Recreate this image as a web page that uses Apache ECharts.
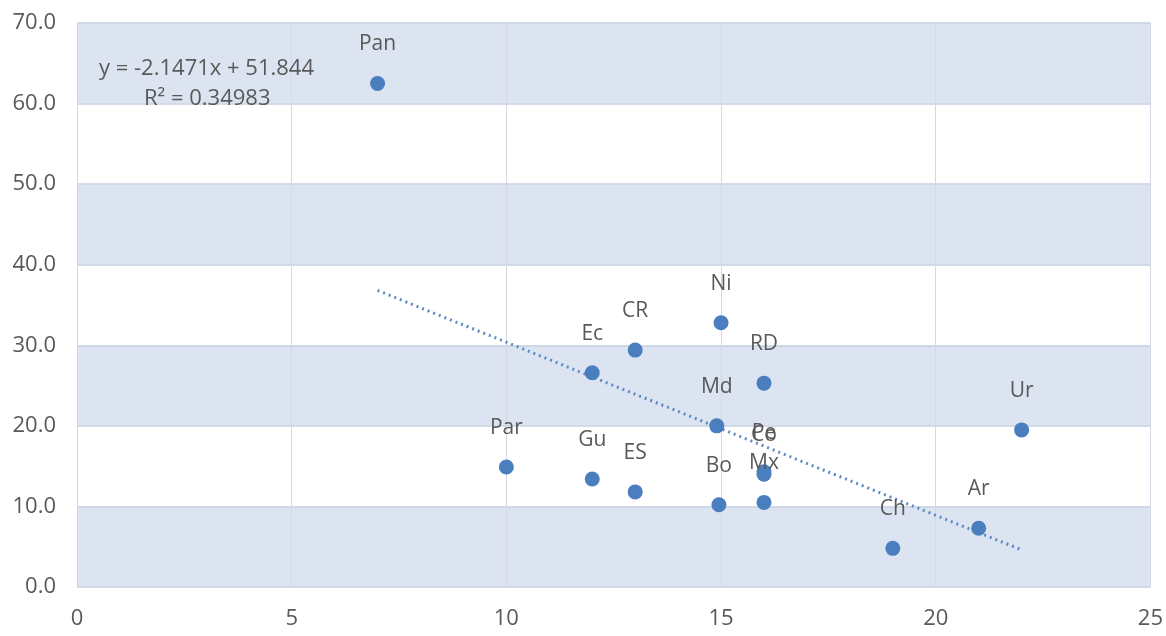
<!DOCTYPE html>
<html><head><meta charset="utf-8">
<script src="https://cdn.jsdelivr.net/npm/echarts@6/dist/echarts.min.js"></script>
<style>html,body{margin:0;padding:0;background:#fff}#c{width:1166px;height:636px}</style>
</head><body><div id="c"></div>
<script>
const countries = ['Pan','Par','Gu','Ec','CR','ES','Ni','Md','Bo','RD','Pe','Co','Mx','Ch','Ar','Ur'];
const xValues   = [7, 10, 12, 12, 13, 13, 15, 14.9, 14.95, 16, 16, 16, 16, 19, 21, 22];
const yValues   = [62.5, 14.9, 13.4, 26.6, 29.4, 11.8, 32.8, 20.0, 10.2, 25.3, 14.3, 14.0, 10.5, 4.8, 7.3, 19.5];
const trendSlope = -2.1471;
const trendIntercept = 51.844;
const trendX = [7, 22];
const equationText = 'y = -2.1471x + 51.844';
const r2Text = 'R² = 0.34983';

const pts = countries.map((n,i)=>({name:n, value:[xValues[i], yValues[i]]}));
const trend = trendX.map(x=>[x, trendSlope*x + trendIntercept]);
const font = "'Open Sans', 'Liberation Sans', sans-serif";
const chart = echarts.init(document.getElementById('c'), null, {renderer:'canvas'});
chart.setOption({
  animation:false,
  backgroundColor:'#fff',
  grid:{left:77, right:14, top:23, bottom:49, containLabel:false},
  xAxis:{type:'value', min:0, max:25, interval:5,
    axisLine:{show:false}, axisTick:{show:false},
    axisLabel:{color:'#595959', fontSize:22, fontFamily:font, margin:21},
    splitLine:{show:true, lineStyle:{color:'#d3dae5', width:1}}},
  yAxis:{type:'value', min:0, max:70, interval:10,
    axisLine:{show:false}, axisTick:{show:false},
    axisLabel:{color:'#595959', fontSize:22, fontFamily:font, margin:21, formatter:v=>v.toFixed(1)},
    splitLine:{show:true, lineStyle:{color:'#c8d2e2', width:1.5}},
    splitArea:{show:true, areaStyle:{color:['#dce4f1','#ffffff']}}},
  series:[
    {type:'line', data:trend, symbol:'none', silent:true,
      lineStyle:{color:'#5d8ac4', width:3, type:[2,4]}, z:2},
    {type:'scatter', data:pts, symbolSize:15, z:3,
      itemStyle:{color:'#4a7ebf', opacity:1},
      label:{show:true, position:'top', distance:21, formatter:p=>p.name,
        color:'#595959', fontSize:21, fontFamily:font}}
  ],
  graphic:[
    {type:'text', left:99, top:58, z:10, style:{text:equationText, fill:'#595959', fontSize:22, fontFamily:font}},
    {type:'text', left:144, top:88, z:10, style:{text:r2Text, fill:'#595959', fontSize:22, fontFamily:font}}
  ]
});
</script></body></html>
